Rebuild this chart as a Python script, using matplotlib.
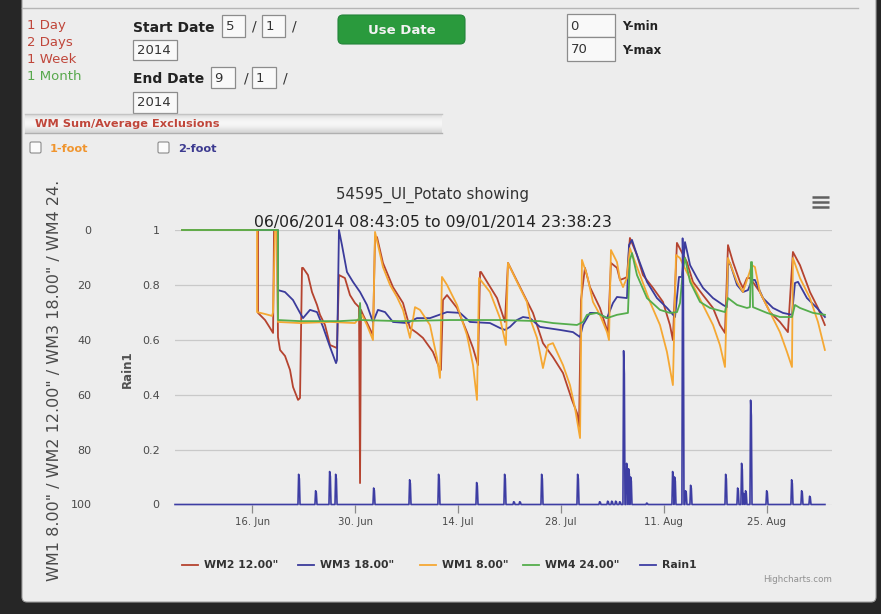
import matplotlib
matplotlib.use("Agg")
import matplotlib.pyplot as plt
from matplotlib.patches import Rectangle, FancyBboxPatch
import numpy as np

W, H = 881, 614

# ---------------- data (x = days since 1 Jun 2014) ----------------
x_tick_days = [15, 29, 43, 57, 71, 85]
x_tick_labels = ["16. Jun", "30. Jun", "14. Jul", "28. Jul", "11. Aug", "25. Aug"]
wm_ticks = [0, 20, 40, 60, 80, 100]
rain_ticks = [0, 0.2, 0.4, 0.6, 0.8, 1]
rain_tick_labels = ["0", "0.2", "0.4", "0.6", "0.8", "1"]

series_names = ['WM2 12.00"', 'WM3 18.00"', 'WM1 8.00"', 'WM4 24.00"', 'Rain1']
series_colors = ['#b5432f', '#3b3b9b', '#f5a833', '#55ad4c', '#3d3da3']

wm2_day = [5.41, 15.75, 15.75, 16.71, 17.39, 17.8, 17.93, 18.34, 18.47, 18.75, 19.43, 20.11,
           20.52, 21.2, 21.47, 21.74, 21.88, 22.55, 23.1, 23.78, 24.19, 24.87, 25.55, 26.5,
           26.77, 27.58, 28.27, 28.95, 29.5, 29.64, 29.77, 30.05, 30.73, 31.4, 31.68, 31.95,
           32.76, 34.12, 35.49, 36.44, 37.39, 38.2, 39.56, 40.38, 40.65, 40.93, 41.48, 42.84,
           44.2, 45.02, 45.7, 45.98, 46.11, 46.93, 48.29, 49.37, 49.78, 50.06, 51.83, 53.18,
           54.54, 55.9, 57.27, 58.49, 59.18, 59.45, 59.72, 60.26, 60.94, 62.3, 63.39, 63.8,
           64.62, 65.03, 65.71, 65.97, 66.38, 67.34, 68.15, 69.52, 70.88, 71.83, 72.23, 72.78,
           74.14, 74.96, 76.32, 77.69, 78.63, 79.32, 79.73, 80.41, 81.36, 81.77, 82.31, 82.72,
           83.4, 84.07, 85.44, 86.8, 87.89, 88.57, 89.53, 90.89, 91.98, 92.92]
wm2_val = [0, 0, 30.2, 32.8, 35.7, 37.5, 0, 0, 39.0, 43.7, 45.9, 51.0,
           57.2, 61.9, 61.2, 13.8, 13.8, 16.4, 22.6, 27.3, 30.9, 34.6, 41.9, 43.0,
           16.4, 17.5, 23.7, 26.6, 28.1, 92.2, 29.1, 30.9, 34.6, 38.3, 2.6, 2.6,
           12.0, 20.8, 26.6, 35.7, 37.5, 39.3, 44.4, 49.9, 51.0, 25.5, 23.7, 28.4,
           37.2, 43.0, 49.2, 15.3, 15.3, 18.9, 24.8, 33.5, 12.0, 13.5, 23.0, 30.2,
           41.2, 46.3, 52.1, 61.9, 66.7, 71.8, 25.5, 13.8, 20.8, 28.4, 37.5, 12.0,
           13.8, 18.2, 17.5, 17.1, 2.9, 9.1, 16.4, 21.1, 26.2, 34.6, 40.1, 4.7,
           11.7, 18.9, 23.7, 28.4, 34.6, 37.5, 5.5, 11.7, 18.9, 21.1, 17.5, 17.5,
           20.0, 22.6, 29.9, 33.5, 37.2, 8.0, 12.8, 22.6, 28.4, 34.6]

wm3_day = [5.41, 18.47, 18.47, 19.42, 20.51, 21.47, 21.88, 22.83, 23.78, 24.6, 25.55, 26.37,
           26.5, 26.77, 27.18, 27.86, 28.68, 29.64, 30.58, 31.4, 32.08, 33.04, 34.12, 36.03,
           37.39, 39.16, 41.48, 43.25, 44.61, 47.33, 48.69, 49.37, 50.05, 51.0, 51.82, 52.77,
           54.13, 55.09, 56.86, 58.63, 59.59, 59.99, 60.94, 61.9, 63.26, 64.07, 64.62, 65.98,
           66.25, 66.66, 67.34, 68.7, 70.06, 71.43, 72.52, 73.06, 73.47, 73.88, 74.57, 75.52,
           76.33, 77.69, 79.05, 79.6, 79.73, 80.0, 80.96, 81.77, 82.45, 83.0, 83.4, 84.49,
           85.85, 87.21, 88.44, 88.85, 89.26, 90.48, 91.84, 92.93]
wm3_val = [0, 0, 21.9, 22.6, 25.5, 30.2, 32.1, 29.1, 29.9, 35.3, 42.6, 48.5,
           47.4, 0, 5.5, 15.3, 18.9, 22.6, 27.3, 33.5, 29.1, 29.9, 33.5, 33.9,
           32.1, 32.1, 29.9, 30.2, 33.5, 33.9, 35.7, 36.4, 35.3, 32.8, 31.7, 32.1,
           35.3, 35.7, 36.4, 37.2, 39.0, 34.6, 30.2, 30.2, 32.1, 26.6, 24.4, 24.8,
           5.5, 3.6, 9.1, 18.9, 24.8, 28.4, 31.7, 17.1, 17.1, 4.4, 12.8, 17.5,
           21.1, 24.8, 27.3, 28.1, 12.8, 12.0, 20.0, 22.6, 21.9, 18.2, 18.2, 24.8,
           28.4, 30.2, 30.9, 19.3, 18.9, 24.8, 28.4, 31.7]

wm1_day = [5.41, 15.62, 15.62, 16.7, 17.66, 17.8, 18.07, 18.33, 18.47, 21.47, 25.55, 28.95,
           29.9, 30.58, 31.4, 31.68, 32.76, 33.72, 34.67, 35.49, 36.44, 37.12, 37.8, 39.16,
           40.11, 40.52, 40.79, 41.48, 42.84, 44.2, 45.02, 45.56, 45.84, 47.33, 48.69, 49.5,
           49.78, 51.01, 52.36, 52.77, 53.73, 54.54, 55.23, 55.9, 57.27, 58.22, 58.9, 59.59,
           59.85, 60.54, 61.35, 62.3, 63.26, 63.53, 63.8, 64.62, 65.03, 65.44, 65.97, 66.38,
           67.75, 69.11, 70.47, 71.42, 72.23, 72.65, 73.19, 74.96, 76.32, 77.69, 78.63, 79.32,
           79.73, 80.95, 81.77, 82.99, 83.4, 84.07, 85.44, 86.8, 87.76, 88.44, 88.57, 89.53,
           90.89, 91.98, 92.92]
wm1_val = [0, 0, 29.9, 30.6, 31.3, 29.9, 0, 0, 33.5, 33.9, 33.5, 33.9,
           30.9, 34.6, 40.1, 0.7, 13.5, 20.0, 24.4, 29.1, 39.3, 28.1, 29.1, 34.6,
           46.6, 53.9, 17.1, 20.0, 27.3, 38.3, 49.2, 61.9, 17.5, 22.6, 32.1, 41.9,
           12.0, 18.9, 26.2, 32.1, 39.3, 50.3, 41.9, 41.2, 49.2, 56.5, 64.8, 75.8,
           10.9, 16.4, 26.2, 30.9, 37.2, 40.1, 7.3, 11.7, 18.2, 20.8, 17.5, 6.6,
           16.4, 26.2, 34.6, 44.4, 56.5, 9.1, 10.2, 20.0, 27.3, 34.6, 41.9, 49.9,
           10.2, 18.9, 22.6, 12.8, 13.5, 22.6, 29.9, 37.2, 44.4, 49.9, 10.2, 17.5,
           24.8, 33.5, 43.7]

wm4_day = [5.41, 18.47, 18.47, 21.47, 26.91, 29.5, 29.64, 29.77, 35.08, 41.89, 48.69, 54.13,
           55.9, 59.17, 59.99, 60.53, 61.9, 63.26, 64.62, 66.11, 66.38, 66.66, 67.34, 68.7,
           70.47, 71.83, 72.79, 73.2, 73.6, 73.88, 74.57, 75.92, 77.28, 79.32, 79.73, 80.96,
           82.31, 82.72, 82.86, 83.0, 83.13, 85.04, 86.81, 88.44, 88.85, 89.53, 91.3, 92.93]
wm4_val = [0, 0, 32.8, 33.2, 33.2, 32.8, 26.6, 32.8, 33.2, 32.8, 32.8, 33.2,
           33.9, 34.6, 33.5, 30.9, 30.2, 32.1, 30.9, 30.2, 10.9, 8.4, 16.4, 24.8,
           29.1, 30.2, 29.9, 26.6, 14.6, 10.2, 18.9, 26.2, 28.4, 29.9, 24.8, 27.3,
           28.4, 28.1, 11.7, 11.7, 28.1, 30.2, 31.7, 31.7, 27.3, 28.4, 30.2, 30.9]

rain_start, rain_end = 4.45, 92.93
rain_spike_day = [21.33, 23.64, 25.55, 26.37, 31.54, 36.44, 40.38, 45.56, 49.37, 50.6, 51.42,
                  54.41, 59.31, 62.3, 63.39, 63.94, 64.48, 65.03, 65.57, 65.98, 66.25, 66.52,
                  68.7, 72.24, 72.51, 73.6, 74.0, 74.69, 79.46, 81.09, 81.63, 81.9, 82.17,
                  82.86, 85.04, 88.44, 89.8, 90.89]
rain_spike_val = [0.11, 0.05, 0.12, 0.11, 0.06, 0.09, 0.11, 0.08, 0.11, 0.01, 0.01,
                  0.11, 0.11, 0.01, 0.012, 0.012, 0.012, 0.01, 0.56, 0.15, 0.13, 0.10,
                  0.005, 0.12, 0.10, 0.97, 0.05, 0.07, 0.11, 0.06, 0.15, 0.04, 0.05,
                  0.38, 0.05, 0.09, 0.05, 0.03]

# ---------------- figure / page ----------------
fig = plt.figure(figsize=(W / 100, H / 100), dpi=100)
fig.patch.set_facecolor('#262626')
bg = fig.add_axes([0, 0, 1, 1], zorder=0)
bg.set_xlim(0, W)
bg.set_ylim(H, 0)
bg.axis('off')

PAGE = '#ededed'
bg.add_patch(FancyBboxPatch((22, -10), 854, 612, boxstyle='round,pad=0,rounding_size=5',
                            fc=PAGE, ec='#a0a0a0', lw=0.8))
bg.plot([22, 858], [7.5, 7.5], color='#b5b5b5', lw=1.0)

UI = 'DejaVu Sans'
# quick range links
for txt, yb, col in [('1 Day', 29.5, '#c0463a'), ('2 Days', 46.3, '#c0463a'),
                     ('1 Week', 63.1, '#c0463a'), ('1 Month', 79.9, '#57a84c')]:
    bg.text(27, yb, txt, fontsize=9.5, color=col, family=UI, va='baseline', ha='left')

def box(x0, y0, x1, y1, txt):
    bg.add_patch(Rectangle((x0, y0), x1 - x0, y1 - y0, fc='#f9f9f9', ec='#8c8c8c', lw=0.9))
    bg.text(x0 + 3.5, (y0 + y1) / 2 + 0.5, txt, fontsize=9.5, color='#333', family=UI,
            va='center', ha='left')

bg.text(133, 31.5, 'Start Date', fontsize=10, weight='bold', color='#222', family=UI, va='baseline')
box(222, 15, 245, 37, '5')
bg.text(252, 26, '/', fontsize=10, color='#333', va='center')
box(262, 15, 285, 37, '1')
bg.text(292, 26, '/', fontsize=10, color='#333', va='center')
box(133, 40, 177, 60, '2014')
bg.text(133, 83, 'End Date', fontsize=10, weight='bold', color='#222', family=UI, va='baseline')
box(211, 67, 235, 88, '9')
bg.text(244, 78, '/', fontsize=10, color='#333', va='center')
box(252, 67, 276, 88, '1')
bg.text(283, 78, '/', fontsize=10, color='#333', va='center')
box(133, 92, 177, 113, '2014')

# Use Date button
bg.add_patch(FancyBboxPatch((338, 15), 127, 29, boxstyle='round,pad=0,rounding_size=5',
                            fc='#2a9a3d', ec='#23843a', lw=0.8))
bg.text(401.5, 30, 'Use Date', fontsize=9.5, weight='bold', color='#f2f2f2', family=UI,
        ha='center', va='center')

# Y-min / Y-max
box(567, 14, 615, 37, '0')
box(567, 37, 615, 61, '70')
bg.text(622, 26.5, 'Y-min', fontsize=8.5, weight='bold', color='#222', family=UI, va='center')
bg.text(622, 50, 'Y-max', fontsize=8.5, weight='bold', color='#222', family=UI, va='center')

# exclusions band
grad = np.array([[0.86], [0.93], [0.96], [0.97], [0.95], [0.90], [0.84]])
bg.imshow(grad, cmap='gray', vmin=0, vmax=1, extent=(25, 442, 133, 114), aspect='auto',
          interpolation='bicubic', zorder=1)
bg.plot([25, 442], [114, 114], color='#c4c4c4', lw=1, zorder=2)
bg.plot([25, 442], [133, 133], color='#b0b0b0', lw=1, zorder=2)
bg.text(35, 124, 'WM Sum/Average Exclusions', fontsize=8.2, weight='bold', color='#c0463a',
        family=UI, va='center', zorder=3)
for x0, txt, col in [(30, '1-foot', '#f0952e'), (158, '2-foot', '#3c3a90')]:
    bg.add_patch(FancyBboxPatch((x0, 142), 11, 11, boxstyle='round,pad=0,rounding_size=1.5',
                                fc='#fbfbfb', ec='#8a8a8a', lw=0.8))
    bg.text(x0 + 20, 148.5, txt, fontsize=8.2, weight='bold', color=col, family=UI, va='center')

# chart titles
bg.text(432, 195, '54595_UI_Potato showing', fontsize=10.8, color='#333', family=UI,
        ha='center', va='center')
bg.text(433, 222, '06/06/2014 08:43:05 to 09/01/2014 23:38:23', fontsize=11.3, color='#222',
        family=UI, ha='center', va='center')
for yy in (196.5, 201.5, 206.5):
    bg.plot([812, 829], [yy, yy], color='#606060', lw=1.8, solid_capstyle='butt')

# axis titles
bg.text(55, 380, 'WM1 8.00" / WM2 12.00" / WM3 18.00" / WM4 24.', fontsize=11.5, color='#4a4a4a',
        family=UI, rotation=90, ha='center', va='center')
bg.text(127, 369, 'Rain1', fontsize=8.5, weight='bold', color='#505050', family=UI,
        rotation=90, ha='center', va='center')

# ---------------- chart axes ----------------
L, R, TOP, BOT = 175, 832, 230, 504.5
ax = fig.add_axes([L / W, 1 - BOT / H, (R - L) / W, (BOT - TOP) / H], zorder=2)
ax.patch.set_alpha(0)
ax.set_xlim(4.45, 93.89)
ax.set_ylim(100, 0)
for s in ax.spines.values():
    s.set_visible(False)
ax.set_axisbelow(True)
ax.set_yticks(wm_ticks)
ax.set_yticklabels([str(v) for v in wm_ticks])
ax.tick_params(axis='y', length=0, pad=60, labelsize=8, labelcolor='#4a4a4a')
ax.grid(axis='y', color='#c9c9c9', lw=0.9)
ax.set_xticks(x_tick_days)
ax.set_xticklabels(x_tick_labels)
ax.tick_params(axis='x', length=6, width=0.9, color='#8a8a8a', pad=3, labelsize=7.3,
               labelcolor='#4a4a4a', direction='out')
for t in ax.get_xticklabels() + ax.get_yticklabels():
    t.set_family(UI)

lines = []
for d, v, c in [(wm2_day, wm2_val, series_colors[0]), (wm3_day, wm3_val, series_colors[1]),
                (wm1_day, wm1_val, series_colors[2]), (wm4_day, wm4_val, series_colors[3])]:
    ln, = ax.plot(d, v, color=c, lw=1.3, clip_on=False, solid_joinstyle='round')
    lines.append(ln)

ax_r = ax.twinx()
ax_r.set_zorder(3)
ax_r.patch.set_alpha(0)
ax_r.set_ylim(0, 1)
ax_r.yaxis.tick_left()
ax_r.set_yticks(rain_ticks)
ax_r.set_yticklabels(rain_tick_labels)
ax_r.tick_params(axis='y', length=0, pad=11, labelsize=8, labelcolor='#4a4a4a',
                 labelleft=True, labelright=False)
for t in ax_r.get_yticklabels():
    t.set_family(UI)
for s in ax_r.spines.values():
    s.set_visible(False)

rx, ry = [rain_start], [0.0]
for d, p in zip(rain_spike_day, rain_spike_val):
    rx += [d - 0.14, d - 0.05, d + 0.05, d + 0.14]
    ry += [0.0, p, p * 0.85, 0.0]
rx.append(rain_end)
ry.append(0.0)
ln, = ax_r.plot(rx, ry, color=series_colors[4], lw=1.2, clip_on=False)
lines.append(ln)

# ---------------- legend ----------------
leg_x = [182, 298, 420, 523, 640]
for x0, name, col in zip(leg_x, series_names, series_colors):
    bg.plot([x0, x0 + 16], [565, 565], color=col, lw=1.3)
    bg.text(x0 + 22, 565, name, fontsize=7.8, weight='bold', color='#333', family=UI,
            va='center', ha='left')
bg.text(832, 579, 'Highcharts.com', fontsize=6.3, color='#909090', family=UI,
        ha='right', va='center')

fig.savefig('out.png', dpi=100, facecolor=fig.get_facecolor())
